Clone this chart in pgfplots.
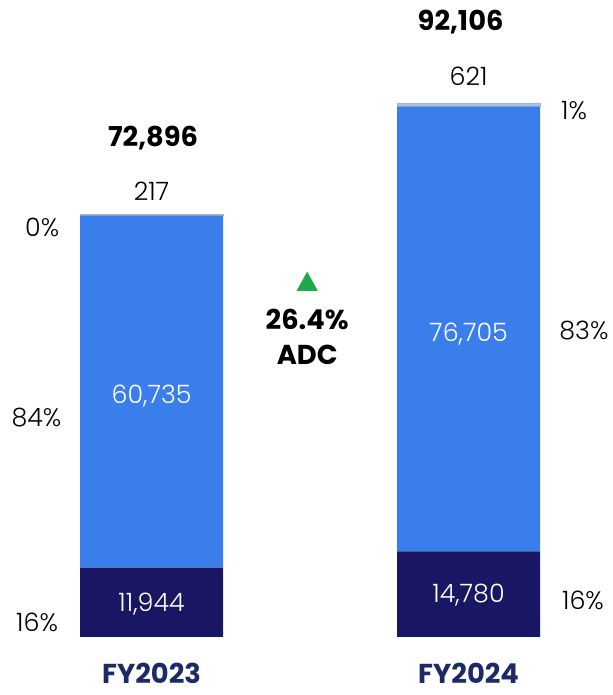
\documentclass[border=0pt]{standalone}
\usepackage{fontspec}
\setmainfont{Poppins}
\newfontfamily\lightfont{Poppins Light}
\usepackage{pgfplots}
\pgfplotsset{compat=1.18}
\definecolor{navy}{HTML}{191763}
\definecolor{mblue}{HTML}{3A7EEB}
\definecolor{lblue}{HTML}{A9BEEA}
\definecolor{fynavy}{HTML}{1C2A66}
\definecolor{upgreen}{HTML}{1DAA4E}
\tikzset{lt/.style={font=\lightfont\fontsize{19}{22}\selectfont},
         bd/.style={font=\bfseries\fontsize{20.5}{24}\selectfont}}
\begin{document}
\begin{tikzpicture}
\begin{axis}[
  scale only axis, width=456pt, height=521.25pt,
  xmin=-0.478, xmax=1.440, ymin=-10004, ymax=109870,
  hide axis, clip=false,
  ybar stacked, bar width=0.451,
  after end axis/.code={
    % inside labels
    \node[text=white, lt] at (axis cs:0,5700) {11,944};
    \node[text=white, lt] at (axis cs:0,41500) {60,735};
    \node[text=white, lt] at (axis cs:1,7200) {14,780};
    \node[text=white, lt] at (axis cs:1,52200) {76,705};
    % top labels
    \node[lt] at (axis cs:0,76850) {217};
    \node[lt] at (axis cs:1,96700) {621};
    \node[bd] at (axis cs:0.005,86050) {72,896};
    \node[bd] at (axis cs:0.975,106000) {92,106};
    % percentages
    \node[lt] at (axis cs:-0.345,70720) {0\%};
    \node[lt] at (axis cs:-0.363,37780) {84\%};
    \node[lt] at (axis cs:-0.361,2590) {16\%};
    \node[lt] at (axis cs:1.333,90800) {1\%};
    \node[lt] at (axis cs:1.364,52920) {83\%};
    \node[lt] at (axis cs:1.361,6390) {16\%};
    % FY labels
    \node[text=fynavy, font=\bfseries\fontsize{20.5}{24}\selectfont] at (axis cs:0,-6300) {FY2023};
    \node[text=fynavy, font=\bfseries\fontsize{20.5}{24}\selectfont] at (axis cs:1,-6300) {FY2024};
    % growth
    \fill[upgreen] (axis cs:0.491,61300) ++(-8pt,-7pt) -- ++(16pt,0pt) -- ++(-8pt,14.5pt) -- cycle;
    \node[bd] at (axis cs:0.491,54700) {26.4\%};
    \node[bd] at (axis cs:0.491,48600) {ADC};
  },
]
\path (rel axis cs:0,0) rectangle (rel axis cs:1,1);
\addplot[fill=navy, draw=none] coordinates {(0,11944) (1,14780)};
\addplot[fill=mblue, draw=none] coordinates {(0,60735) (1,76705)};
\addplot[fill=lblue, draw=gray!60, line width=0.3pt] coordinates {(0,217) (1,621)};
\end{axis}
\end{tikzpicture}
\end{document}
